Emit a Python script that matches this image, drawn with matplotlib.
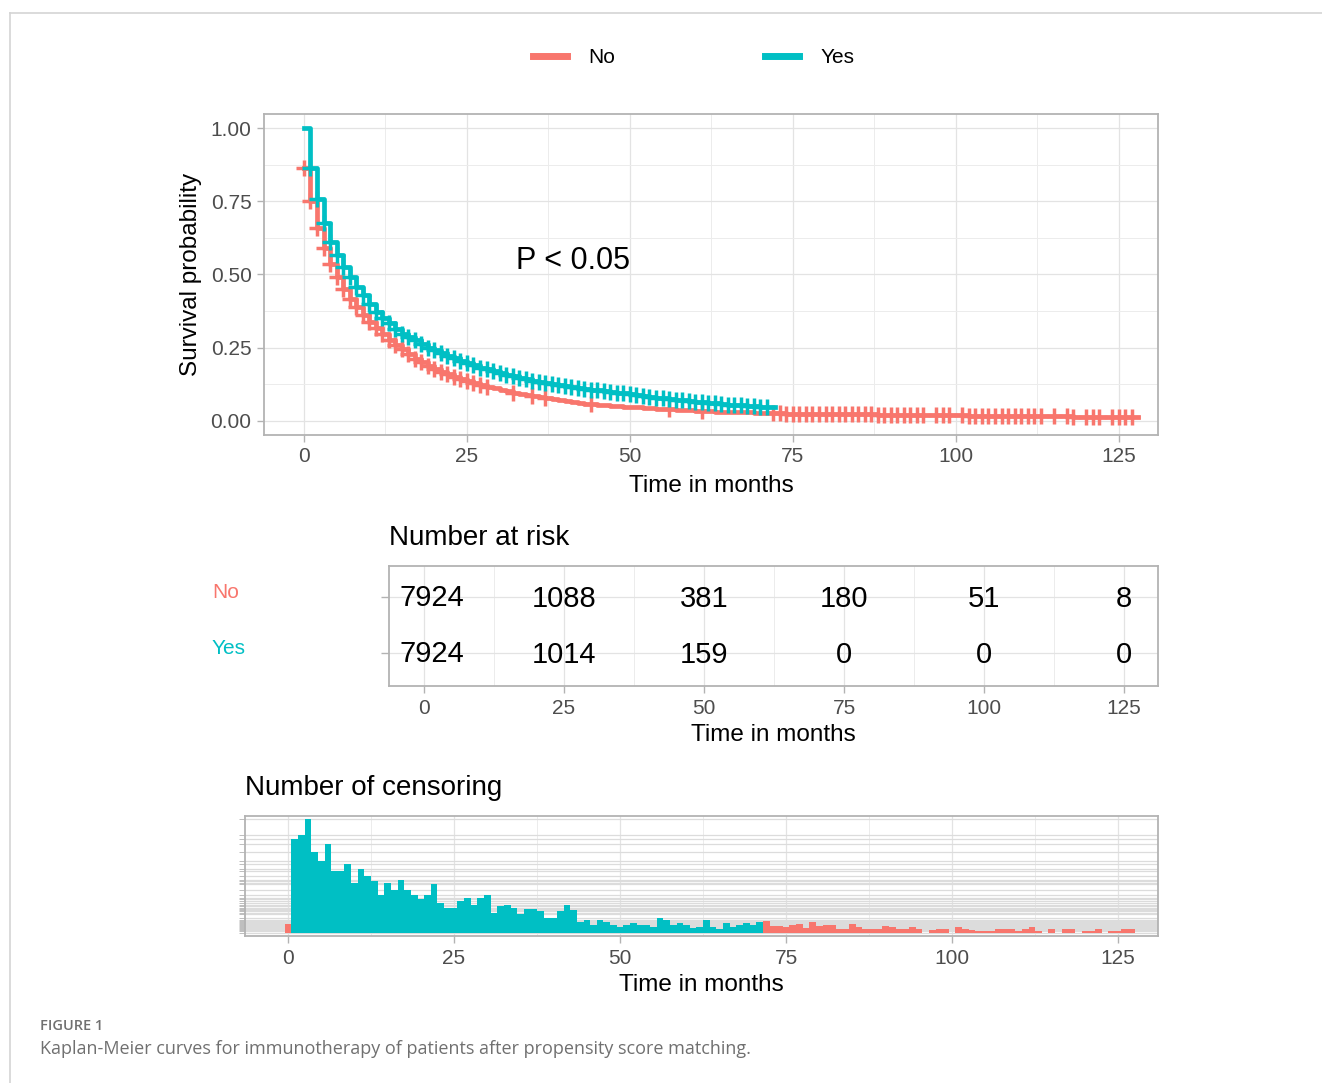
import numpy as np
import matplotlib.pyplot as plt
from matplotlib.lines import Line2D

plt.rcParams["font.family"] = ["Liberation Sans", "DejaVu Sans"]

RED = "#F8766D"
TEAL = "#00BFC4"
W, H = 1322, 1083

groups = ["No", "Yes"]

# Kaplan-Meier estimate at each month (month 0 first)
yes_surv = [1.000, 0.865, 0.757, 0.675, 0.612, 0.568, 0.527, 0.493, 0.458, 0.430,
            0.398, 0.372, 0.352, 0.333, 0.314, 0.298, 0.286, 0.275, 0.262, 0.250,
            0.241, 0.231, 0.223, 0.214, 0.206, 0.199, 0.190, 0.182, 0.176, 0.170,
            0.164, 0.157, 0.152, 0.147, 0.142, 0.137, 0.133, 0.129, 0.126, 0.122,
            0.118, 0.115, 0.112, 0.109, 0.107, 0.104, 0.102, 0.099, 0.097, 0.094,
            0.091, 0.089, 0.086, 0.083, 0.080, 0.078, 0.076, 0.073, 0.071, 0.068,
            0.066, 0.064, 0.062, 0.060, 0.058, 0.056, 0.055, 0.053, 0.052, 0.050,
            0.049, 0.047]
no_surv = [0.862, 0.752, 0.660, 0.592, 0.537, 0.492, 0.452, 0.418, 0.388, 0.362,
           0.338, 0.317, 0.297, 0.278, 0.260, 0.244, 0.228, 0.213, 0.200, 0.188,
           0.177, 0.167, 0.159, 0.151, 0.144, 0.137, 0.130, 0.123, 0.117, 0.111,
           0.106, 0.101, 0.097, 0.093, 0.089, 0.086, 0.083, 0.078, 0.074, 0.071,
           0.068, 0.064, 0.061, 0.059, 0.057, 0.055, 0.054, 0.052, 0.051, 0.049,
           0.048, 0.046, 0.045, 0.044, 0.042, 0.041, 0.040, 0.039, 0.037, 0.036,
           0.035, 0.034, 0.033, 0.032, 0.031, 0.031, 0.030, 0.029, 0.029, 0.028,
           0.027, 0.027, 0.026, 0.026, 0.025, 0.025, 0.025, 0.024, 0.024, 0.024,
           0.023, 0.023, 0.023, 0.023, 0.022, 0.022, 0.022, 0.022, 0.021, 0.021,
           0.021, 0.021, 0.020, 0.020, 0.020, 0.020, 0.020, 0.019, 0.019, 0.019,
           0.019, 0.019, 0.018, 0.018, 0.018, 0.018, 0.018, 0.017, 0.017, 0.017,
           0.017, 0.017, 0.016, 0.016, 0.016, 0.016, 0.016, 0.016, 0.015, 0.015,
           0.015, 0.015, 0.015, 0.015, 0.015, 0.015, 0.015, 0.015]
yes_followup = 72.2
no_followup = 128

# censored patients per month
yes_censor = [94, 98, 114, 81, 72, 89, 62, 62, 69, 50, 64, 57, 52, 38, 50, 43, 53, 43,
              38, 34, 38, 49, 30, 25, 25, 32, 35, 28, 35, 38, 20, 27, 28, 25, 19, 24,
              24, 22, 15, 15, 22, 28, 23, 11, 13, 8, 13, 11, 8, 6, 8, 10, 8, 8, 6, 15,
              13, 8, 10, 8, 5, 6, 13, 6, 4, 10, 6, 8, 10, 8, 11]          # months 1-71
no_censor_m0 = 9
no_censor_late = [12, 7, 7, 6, 8, 9, 5, 11, 7, 8, 8, 4, 4, 9, 6, 4, 4, 4, 7, 6, 4, 4,
                  6, 4, 0, 3, 4, 4, 0, 6, 4, 3, 2, 2, 2, 4, 4, 4, 2, 4, 6, 2, 0, 4,
                  0, 4, 4, 0, 2, 2, 4, 0, 2, 2, 4, 4]                       # months 72-127
no_mark_months_early = list(range(0, 28)) + [28, 32, 35, 37, 44, 56, 61]

risk_times = [0, 25, 50, 75, 100, 125]
risk_no = [7924, 1088, 381, 180, 51, 8]
risk_yes = [7924, 1014, 159, 0, 0, 0]

xticks = [0, 25, 50, 75, 100, 125]
minor_x = [12.5, 37.5, 62.5, 87.5, 112.5]


def add_ax(left, top, right, bottom):
    return fig.add_axes([left / W, 1 - bottom / H, (right - left) / W, (bottom - top) / H])


def style(ax):
    for s in ax.spines.values():
        s.set_color("#b3b3b3")
        s.set_linewidth(1.3)
    ax.set_axisbelow(True)
    ax.grid(which="major", color="#e3e3e3", lw=0.9)
    ax.grid(which="minor", color="#ececec", lw=0.7)
    ax.tick_params(which="major", color="#b3b3b3", length=5, width=1,
                   labelsize=15, labelcolor="#4d4d4d", pad=4)
    ax.tick_params(which="minor", length=0)
    ax.set_xticks(xticks)
    ax.set_xticks(minor_x, minor=True)


fig = plt.figure(figsize=(W / 100, H / 100), dpi=100)

# ---- survival curves
ax = add_ax(264, 114, 1158, 435)
style(ax)
yes_t = np.arange(len(yes_surv))
no_t = np.arange(len(no_surv))
ax.step(np.append(no_t, no_followup), np.append(no_surv, no_surv[-1]),
        where="post", color=RED, lw=3.4)
no_late = np.arange(72, 72 + len(no_censor_late))
no_marks = np.array(no_mark_months_early + list(no_late[np.array(no_censor_late) > 0]))
ax.plot(no_marks, np.array(no_surv)[no_marks], ls="none", marker="+", ms=11, mew=2.5, color=RED)
ax.step(np.append(yes_t, yes_followup), np.append(yes_surv, yes_surv[-1]),
        where="post", color=TEAL, lw=3.4)
ax.plot(yes_t[1:], np.array(yes_surv)[1:], ls="none", marker="+", ms=11, mew=2.5, color=TEAL)
ax.set_xlim(-6.13, 131.0)
ax.set_ylim(-0.048, 1.048)
ax.set_yticks([0, 0.25, 0.5, 0.75, 1.0], ["0.00", "0.25", "0.50", "0.75", "1.00"])
ax.set_yticks([0.125, 0.375, 0.625, 0.875], minor=True)
ax.text(41.3, 0.545, "P < 0.05", fontsize=22, ha="center", va="center")
ax.set_xlabel("Time in months", fontsize=17.5, labelpad=6)
ax.set_ylabel("Survival probability", fontsize=17.5, labelpad=6)

fig.legend(handles=[Line2D([], [], color=RED, lw=5), Line2D([], [], color=TEAL, lw=5)],
           labels=groups, loc="center", bbox_to_anchor=(694 / W, 1 - 58 / H), ncol=2,
           frameon=False, fontsize=15, handlelength=1.6, handletextpad=1.05,
           columnspacing=7.2)

# ---- number at risk
ax2 = add_ax(389, 566, 1158, 686)
style(ax2)
ax2.set_xlim(-6.25, 131.07)
ax2.set_ylim(0.42, 2.56)
ax2.set_yticks([2, 1], ["", ""])
ax2.tick_params(axis="y", length=6)
for row, vals in [(2, risk_no), (1, risk_yes)]:
    for t, v in zip(risk_times, vals):
        if t == risk_times[0]:
            ax2.annotate(str(v), (t, row), xytext=(-25, -1), textcoords="offset pixels",
                         ha="left", va="center", fontsize=21)
        else:
            ax2.text(t, row - 0.03, str(v), ha="center", va="center", fontsize=21)
ax2.set_xlabel("Time in months", fontsize=17.5, labelpad=5)
ax2.set_title("Number at risk", loc="left", fontsize=20, pad=15)
fig.text(212 / W, 1 - 593 / H, groups[0], color=RED, fontsize=15, va="center")
fig.text(212 / W, 1 - 649 / H, groups[1], color=TEAL, fontsize=15, va="center")

# ---- number of censoring
ax3 = add_ax(245, 816, 1158, 936)
style(ax3)
ax3.bar([0], [no_censor_m0], width=1, color=RED, lw=0)
ax3.bar(np.arange(1, 1 + len(yes_censor)), yes_censor, width=1, color=TEAL, lw=0)
ax3.bar(no_late, no_censor_late, width=1, color=RED, lw=0)
levels = sorted(set(yes_censor) | set(no_censor_late) | {no_censor_m0})
ax3.set_yticks(levels, [""] * len(levels))
ax3.tick_params(axis="y", length=4, width=0.6)
ax3.grid(axis="y", which="major", color="#dcdcdc", lw=0.9)
ax3.set_xlim(-6.48, 131.0)
ax3.set_ylim(-3, 117)
ax3.set_xlabel("Time in months", fontsize=17.5, labelpad=5)
ax3.set_title("Number of censoring", loc="left", fontsize=20, pad=15)

# ---- page frame and caption
fig.add_artist(Line2D([10 / W, 10 / W], [0, 1 - 13 / H], color="#d4d4d4", lw=1.2))
fig.add_artist(Line2D([10 / W, 1], [1 - 13 / H, 1 - 13 / H], color="#d4d4d4", lw=1.2))
fig.text(40 / W, 1 - 1026 / H, "FIGURE 1", fontsize=10.5, color="#707070",
         fontweight="semibold", family="Open Sans", va="center")
fig.text(40 / W, 1 - 1049 / H,
         "Kaplan-Meier curves for immunotherapy of patients after propensity score matching.",
         fontsize=13, color="#707070", family="Open Sans", va="center")

fig.savefig("out.png", dpi=100)
